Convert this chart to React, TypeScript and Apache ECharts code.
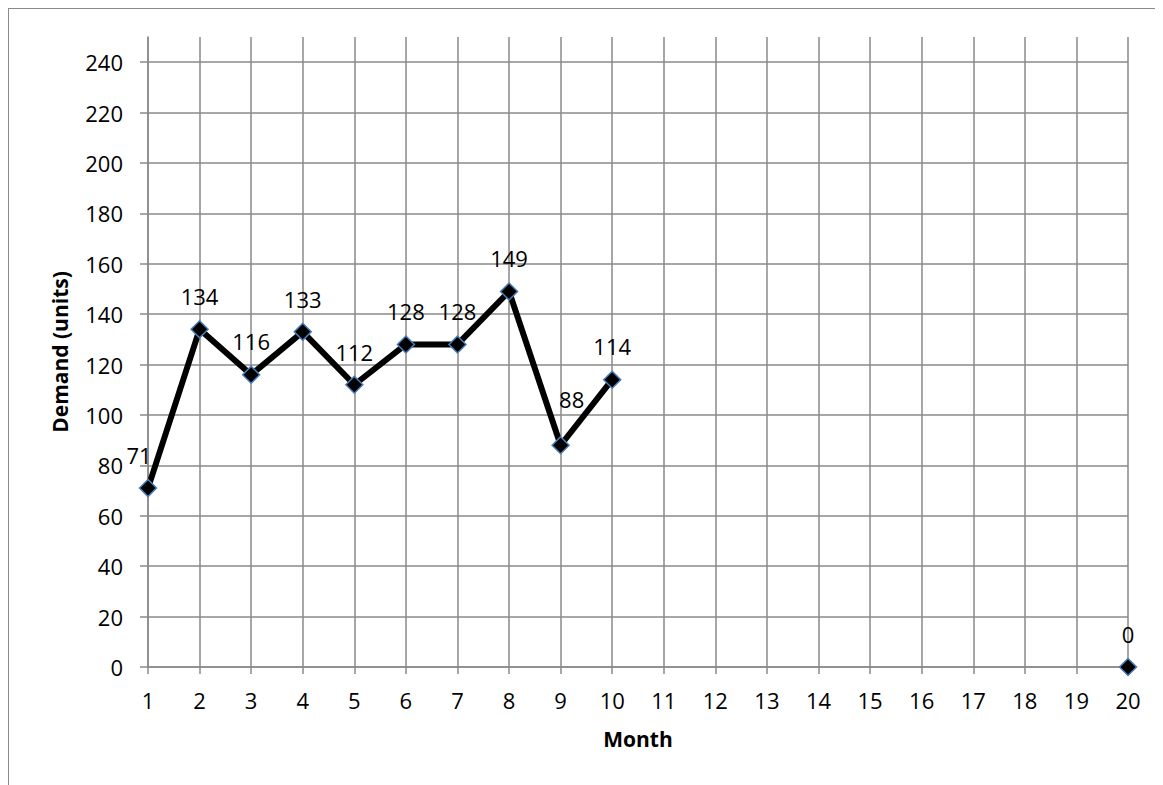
import React, { useEffect, useRef } from "react";
import * as echarts from "echarts";

const months = ["1","2","3","4","5","6","7","8","9","10","11","12","13","14","15","16","17","18","19","20"];
const demand: (number | null)[] = [71, 134, 116, 133, 112, 128, 128, 149, 88, 114, null, null, null, null, null, null, null, null, null, 0];
const labelOffsets: Record<number, number[]> = { 0: [-9, 0], 8: [11, -13] };

const FONT = "'Open Sans', 'Liberation Sans', sans-serif";
const GRID = "#8a8a8a";

export default function App() {
  const ref = useRef<HTMLDivElement>(null);
  useEffect(() => {
    if (!ref.current) return;
    const chart = echarts.init(ref.current, undefined, { renderer: "svg" });
    chart.setOption({
      animation: false,
      grid: { left: 139, top: 28, width: 980, height: 630, containLabel: false },
      xAxis: {
        type: "category",
        data: months,
        boundaryGap: false,
        name: "Month",
        nameLocation: "middle",
        nameGap: 61,
        nameTextStyle: { fontFamily: FONT, fontSize: 21, fontWeight: "bold", color: "#000" },
        axisLine: { show: true, lineStyle: { color: GRID, width: 1.5 } },
        axisTick: { show: true, length: 7, lineStyle: { color: GRID, width: 1.5 } },
        axisLabel: { fontFamily: FONT, fontSize: 22, color: "#000", margin: 22, interval: 0 },
        splitLine: { show: true, lineStyle: { color: GRID, width: 1.5 } },
      },
      yAxis: {
        type: "value",
        min: 0,
        max: 250,
        interval: 20,
        name: "Demand (units)",
        nameLocation: "middle",
        nameGap: 78,
        nameTextStyle: { fontFamily: FONT, fontSize: 21, fontWeight: "bold", color: "#000" },
        axisLine: { show: true, lineStyle: { color: GRID, width: 1.5 } },
        axisTick: { show: true, length: 8, lineStyle: { color: GRID, width: 1.5 } },
        axisLabel: { fontFamily: FONT, fontSize: 22, color: "#000", margin: 25, showMaxLabel: false },
        splitLine: { show: true, showMaxLine: false, lineStyle: { color: GRID, width: 1.5 } },
      },
      series: [
        {
          type: "line",
          data: demand.map((v, i) =>
            labelOffsets[i] ? { value: v, label: { offset: labelOffsets[i] } } : v
          ),
          connectNulls: false,
          symbol: "diamond",
          symbolSize: 17,
          itemStyle: { color: "#000", borderColor: "#4a7ebb", borderWidth: 1.5 },
          lineStyle: { color: "#000", width: 6 },
          label: {
            show: true,
            position: "top",
            distance: 13,
            fontFamily: FONT,
            fontSize: 22,
            color: "#000",
          },
        },
      ],
    });
    return () => chart.dispose();
  }, []);
  return (
    <div
      ref={ref}
      style={{ width: 1163, height: 785, border: "1px solid #8a8a8a", background: "#fff" }}
    />
  );
}
